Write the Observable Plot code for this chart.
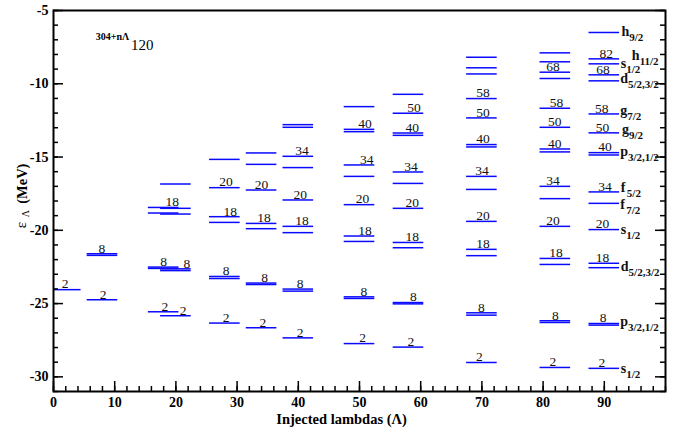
<!DOCTYPE html>
<html><head><meta charset="utf-8">
<script src="https://cdn.jsdelivr.net/npm/d3@7"></script>
<script src="https://cdn.jsdelivr.net/npm/@observablehq/plot@0.6"></script>
<style>
html,body{margin:0;padding:0;background:#fff;}
#chart svg{display:block;}
#chart svg text{font-family:"Liberation Serif","Times New Roman",serif;}
</style></head><body><div id="chart"></div>
<script>
// Number of injected lambdas for each level scheme
const groups = [2, 8, 18, 20, 28, 34, 40, 50, 58, 70, 82, 90];
// Single-particle lambda energies (MeV), one list per group
const levels = [
  [-24.05],
  [-21.60, -21.71, -24.74],
  [-18.44, -18.82, -22.51, -22.60, -25.56],
  [-16.84, -18.50, -18.89, -22.63, -22.75, -25.83],
  [-15.16, -17.09, -19.07, -19.46, -23.15, -23.29, -26.33],
  [-14.72, -15.50, -17.25, -19.53, -19.89, -23.60, -23.70, -26.65],
  [-12.79, -12.97, -14.95, -15.72, -17.93, -19.73, -20.16, -24.01, -24.15, -27.34],
  [-11.56, -13.11, -13.27, -15.54, -16.32, -18.25, -20.39, -20.76, -24.54, -24.65, -27.73],
  [-10.72, -12.01, -13.36, -13.52, -16.02, -16.80, -18.50, -20.83, -21.19, -24.93, -25.02, -27.97],
  [-8.19, -8.91, -9.33, -11.01, -12.33, -14.15, -14.31, -16.32, -17.21, -19.39, -21.30, -21.73, -25.63, -25.79, -29.02],
  [-7.89, -8.50, -9.21, -9.64, -11.67, -12.97, -14.45, -14.65, -17.00, -17.84, -19.73, -21.92, -22.33, -26.17, -26.29, -29.36],
  [-6.50, -8.30, -8.64, -9.39, -9.80, -12.06, -13.35, -14.70, -14.86, -17.38, -18.16, -19.95, -22.25, -22.55, -26.36, -26.47, -29.42]
];
// Shell-closure numbers written above the levels
const shellText = ["2", "8","2", "18","8","8","2","2", "20","18","8","2", "20","18","8","2", "34","20","18","8","2", "40","34","20","18","8","2", "50","40","34","20","18","8","2", "58","50","40","34","20","18","8","2", "68","58","50","40","34","20","18","8","2", "82","68","58","50","40","34","20","18","8","2"];
const shellX = [1.9, 7.9,8.1, 19.4,18.0,21.8,18.2,21.2, 28.2,28.9,28.2,28.2, 34.0,34.4,34.5,34.2, 40.6,40.3,40.6,40.3,40.3, 50.9,51.2,50.5,50.9,50.7,50.5, 58.9,58.6,58.4,58.6,58.6,58.8,58.4, 70.2,70.2,70.2,70.0,70.2,70.2,69.9,69.6, 81.6,82.2,81.9,81.9,81.6,81.6,82.1,82.0,81.6, 90.3,89.8,89.6,89.7,90.1,90.1,89.7,89.7,89.8,89.6];
const shellLevel = [-24.05, -21.60,-24.74, -18.44,-22.51,-22.63,-25.56,-25.83, -17.09,-19.07,-23.15,-26.33, -17.25,-19.53,-23.60,-26.65, -14.95,-17.93,-19.73,-24.01,-27.34, -13.11,-15.54,-18.25,-20.39,-24.54,-27.73, -12.01,-13.36,-16.02,-18.50,-20.83,-24.93,-27.97, -11.01,-12.33,-14.15,-16.32,-19.39,-21.30,-25.63,-29.02, -9.21,-11.67,-12.97,-14.45,-17.00,-19.73,-21.92,-26.17,-29.36, -8.30,-9.39,-12.06,-13.35,-14.70,-17.38,-19.95,-22.25,-26.36,-29.42];
// Orbital labels on the right
const orbitLetter = ["h","h","s","d","g","g","p","f","f","s","d","p","s"];
const orbitSub = ["9/2","11/2","1/2","5/2,3/2","7/2","9/2","3/2,1/2","5/2","7/2","1/2","5/2,3/2","3/2,1/2","1/2"];
const orbitX = [92.8, 94.5, 92.7, 92.6, 92.6, 92.9, 92.6, 92.7, 92.6, 92.7, 92.7, 92.6, 92.7];
const orbitY = [-6.45, -8.05, -8.60, -9.62, -11.85, -13.12, -14.65, -17.10, -18.22, -19.93, -22.45, -26.21, -29.40];
// Axis ticks
const xTicks = [0, 10, 20, 30, 40, 50, 60, 70, 80, 90];
const yTicks = [-5, -10, -15, -20, -25, -30];
const xMinor = d3.range(0, 101, 2);
const yMinor = d3.range(-31, -4, 1);

const segs = groups.flatMap((n, i) => levels[i].map(e => ({n, e})));
const shellIdx = d3.range(shellText.length);
const orbitIdx = d3.range(orbitLetter.length);

const W = 684, H = 435, mL = 53, mR = 19, mT = 10, mB = 44;
const fw = W - mL - mR, fh = H - mT - mB;
const serif = "Liberation Serif";
const adv = {h: 7.8, s: 5.4, d: 7.8, g: 7.0, p: 7.8, f: 6.0};

const subMarks = Object.keys(adv).map(L =>
  Plot.text(orbitIdx.filter(i => orbitLetter[i] === L), {
    x: i => orbitX[i], y: i => orbitY[i], text: i => orbitSub[i],
    textAnchor: "start", dx: adv[L], dy: 6, fontSize: 11, fontWeight: "bold", fill: "#111", fontFamily: serif
  })
);

const plot = Plot.plot({
  width: W, height: H,
  marginLeft: mL, marginRight: mR, marginTop: mT, marginBottom: mB,
  x: {domain: [0, 100]},
  y: {domain: [-31, -5]},
  style: {fontFamily: serif, background: "white", color: "black", overflow: "visible"},
  marks: [
    Plot.ruleY(segs, {y: "e", x1: d => d.n - 2.5, x2: d => d.n + 2.5, stroke: "#0a0aff", strokeWidth: 1.5, clip: true}),
    // inward ticks
    Plot.ruleY(yTicks, {insetRight: fw - 10, stroke: "black", strokeWidth: 1.5}),
    Plot.ruleY(yMinor, {insetRight: fw - 5, stroke: "black", strokeWidth: 1.5}),
    Plot.ruleY(yTicks, {insetLeft: fw - 10, stroke: "black", strokeWidth: 1.5}),
    Plot.ruleY(yMinor, {insetLeft: fw - 5, stroke: "black", strokeWidth: 1.5}),
    Plot.ruleX(xTicks, {insetTop: fh - 10, stroke: "black", strokeWidth: 1.5}),
    Plot.ruleX(xMinor, {insetTop: fh - 5, stroke: "black", strokeWidth: 1.5}),
    Plot.frame({stroke: "black", strokeWidth: 2}),
    Plot.axisX(xTicks, {tickSize: 0, tickPadding: 6, tickFormat: d => String(d), fontSize: 14, fontWeight: "bold", fontFamily: serif, label: null}),
    Plot.axisY(yTicks, {tickSize: 0, tickPadding: 5, tickFormat: d => String(d), fontSize: 14, fontWeight: "bold", fontFamily: serif, label: null}),
    // shell numbers
    Plot.text(shellIdx, {x: i => shellX[i], y: i => shellLevel[i], text: i => shellText[i], dy: -5.5, fontSize: 13.5, fill: "#111", fontFamily: serif}),
    // orbital letters
    Plot.text(orbitIdx, {x: i => orbitX[i], y: i => orbitY[i], text: i => orbitLetter[i], textAnchor: "start", fontSize: 14, fontWeight: "bold", fill: "#111", fontFamily: serif}),
    ...subMarks,
    // axis titles
    Plot.text(["Injected lambdas (Λ)"], {text: d => d, frameAnchor: "bottom", lineAnchor: "middle", textAnchor: "middle", dx: -18, dy: 27.7, fontSize: 14.5, fontWeight: "bold", fontFamily: serif}),
    Plot.text(["(MeV)"], {text: d => d, frameAnchor: "left", lineAnchor: "middle", textAnchor: "middle", rotate: -90, dx: -31, dy: -17.3, fontSize: 14.5, fontWeight: "bold", fontFamily: serif}),
    Plot.text(["ε"], {text: d => d, frameAnchor: "left", lineAnchor: "middle", textAnchor: "middle", rotate: -90, dx: -32, dy: 24.2, fontSize: 15, fontFamily: serif}),
    Plot.text(["Λ"], {text: d => d, frameAnchor: "left", lineAnchor: "middle", textAnchor: "middle", rotate: -90, dx: -28, dy: 12.6, fontSize: 10, fontFamily: serif}),
    // nucleus annotation
    Plot.text(["304+nΛ"], {text: d => d, frameAnchor: "top-left", lineAnchor: "middle", textAnchor: "start", dx: 42.3, dy: 26.7, fontSize: 10, fontWeight: "bold", fontFamily: serif}),
    Plot.text(["120"], {text: d => d, frameAnchor: "top-left", lineAnchor: "middle", textAnchor: "start", dx: 77.5, dy: 34.3, fontSize: 15, fontFamily: serif})
  ]
});
document.getElementById("chart").appendChild(plot);
</script>
</body></html>
